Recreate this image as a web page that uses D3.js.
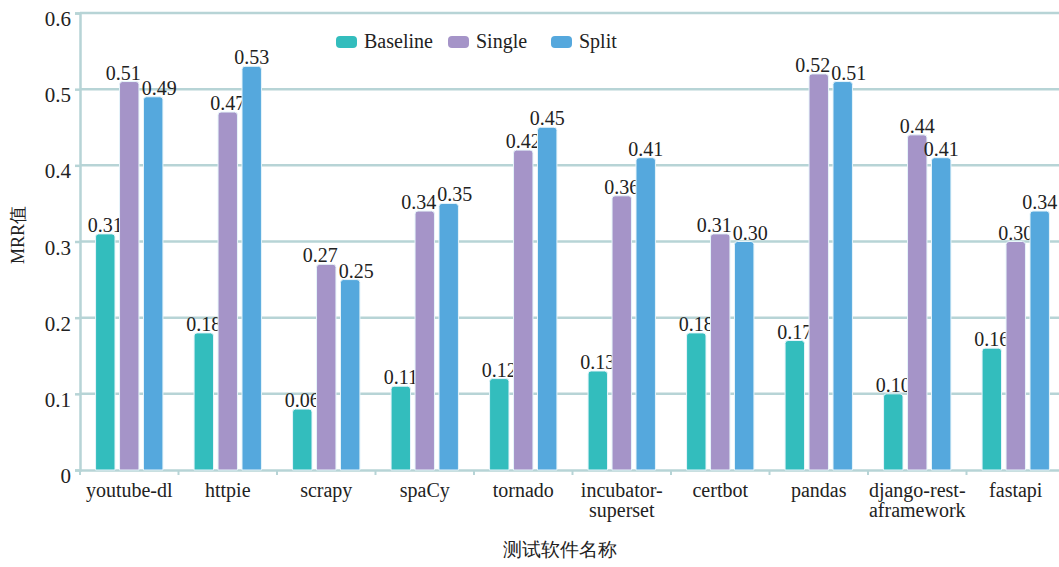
<!DOCTYPE html>
<html><head><meta charset="utf-8">
<script src="https://cdn.jsdelivr.net/npm/d3@7"></script>
<style>body{margin:0;background:#fff}svg{display:block}</style>
</head><body>
<script>
const categories = ["youtube-dl","httpie","scrapy","spaCy","tornado","incubator-\nsuperset","certbot","pandas","django-rest-\naframework","fastapi"];
const seriesNames = ["Baseline","Single","Split"];
const baseline = [0.31,0.18,0.08,0.11,0.12,0.13,0.18,0.17,0.10,0.16];
const single = [0.51,0.47,0.27,0.34,0.42,0.36,0.31,0.52,0.44,0.30];
const split = [0.49,0.53,0.25,0.35,0.45,0.41,0.30,0.51,0.41,0.34];
const baselineLabels = ["0.31","0.18","0.06","0.11","0.12","0.13","0.18","0.17","0.10","0.16"];
const singleLabels = ["0.51","0.47","0.27","0.34","0.42","0.36","0.31","0.52","0.44","0.30"];
const splitLabels = ["0.49","0.53","0.25","0.35","0.45","0.41","0.30","0.51","0.41","0.34"];
const yTicks = [0,0.1,0.2,0.3,0.4,0.5,0.6];
const yTitle = "MRR值";
const xTitle = "测试软件名称";
const colors = ["#33bdbd","#a594c8","#55a8dd"];

const W=1059,H=567;
const svg=d3.select("body").append("svg").attr("width",W).attr("height",H);
const font="Liberation Serif, Tinos, Times New Roman, DejaVu Serif, Noto Serif, serif";
const gridColor="#b7d4d6";

const x=d3.scaleBand().domain(categories).range([80,1065]).paddingInner(0).paddingOuter(0);
const y=d3.scaleLinear().domain([0,0.6]).range([470,13]);
const xs=d3.scaleBand().domain(seriesNames).range([0,x.bandwidth()]).paddingInner(0.19).paddingOuter(0.65);

// grid
svg.append("g").selectAll("line").data(yTicks.slice(1)).join("line")
  .attr("x1",80).attr("x2",W).attr("y1",d=>y(d)).attr("y2",d=>y(d))
  .attr("stroke",gridColor).attr("stroke-width",2.5);

// y axis
const yAxis=d3.axisLeft(y).tickValues(yTicks).tickFormat(d=>d===0?"0":d3.format(".1f")(d)).tickSize(5).tickPadding(4);
const gy=svg.append("g").attr("transform","translate(80,0)").call(yAxis);
gy.attr("font-family",null);
gy.select(".domain").attr("stroke",gridColor).attr("stroke-width",2.5);
gy.selectAll(".tick line").attr("stroke",gridColor).attr("stroke-width",2.5);
gy.selectAll(".tick text").style("font-family",font).attr("font-size",21).attr("fill","#222").attr("dy","0.6em");

// x axis
const xAxis=d3.axisBottom(x).tickSize(0).tickFormat("");
const gx=svg.append("g").attr("transform","translate(0,470)").call(xAxis);
gx.select(".domain").attr("stroke",gridColor).attr("stroke-width",2.5);
svg.append("g").selectAll("line").data(categories).join("line")
  .attr("x1",d=>x(d)).attr("x2",d=>x(d)).attr("y1",470).attr("y2",475)
  .attr("stroke",gridColor).attr("stroke-width",2);

// category labels
const cl=svg.append("g").selectAll("text").data(categories).join("text")
  .attr("x",d=>x(d)+x.bandwidth()/2).attr("y",497)
  .attr("text-anchor","middle").style("font-family",font).attr("font-size",20).attr("fill","#222");
cl.each(function(d){
  const lines=d.split("\n");
  d3.select(this).selectAll("tspan").data(lines).join("tspan")
    .attr("x",x(d)+x.bandwidth()/2).attr("dy",(l,i)=>i?20:0).text(l=>l);
});

// bars
const seriesData=[baseline,single,split];
const labelData=[baselineLabels,singleLabels,splitLabels];
const labelSel=[];
seriesData.forEach((vals,si)=>{
  const g=svg.append("g");
  g.selectAll("path").data(vals).join("path")
    .attr("d",(v,i)=>{
      const x0=x(categories[i])+xs(seriesNames[si]), w=xs.bandwidth(), y0=y(v), y1=y(0), r=3;
      return `M${x0},${y1}V${y0+r}Q${x0},${y0} ${x0+r},${y0}H${x0+w-r}Q${x0+w},${y0} ${x0+w},${y0+r}V${y1}Z`;
    })
    .attr("fill",colors[si]).attr("stroke","#e6f4fa").attr("stroke-width",1);
  labelSel.push(g.selectAll("text").data(vals).join("text")
    .attr("x",(v,i)=>x(categories[i])+xs(seriesNames[si])+xs.bandwidth()/2)
    .attr("y",v=>y(v)-2)
    .attr("text-anchor","middle").style("font-family",font).attr("font-size",20).attr("fill","#222")
    .text((v,i)=>labelData[si][i]));
});
// push apart overlapping neighbour labels within a group
categories.forEach((c,i)=>{
  const nodes=labelSel.map(s=>s.nodes()[i]);
  const info=nodes.map(n=>{const b=n.getBBox();return {n,cx:+n.getAttribute("x"),w:b.width,top:b.y,bot:b.y+b.height};});
  for(let iter=0;iter<4;iter++){
    for(let k=0;k<2;k++){
      const a=info[k],b=info[k+1];
      const vOverlap=a.bot>b.top+3&&b.bot>a.top+3;
      if(!vOverlap) continue;
      const ov=(a.cx+a.w/2)-(b.cx-b.w/2)+1;
      if(ov>0){a.cx-=ov/2;b.cx+=ov/2;}
    }
  }
  info.forEach(o=>o.n.setAttribute("x",o.cx));
});

// legend
const lg=svg.append("g");
const lx=[336,448,551];
seriesNames.forEach((n,i)=>{
  lg.append("rect").attr("x",lx[i]).attr("y",36).attr("width",21).attr("height",12).attr("rx",4)
    .attr("fill",colors[i]);
  lg.append("text").attr("x",lx[i]+28).attr("y",48).style("font-family",font).attr("font-size",20).attr("fill","#222").text(n);
});

// titles
svg.append("text").attr("transform","translate(24,235) rotate(-90)").attr("text-anchor","middle")
  .style("font-family",font).attr("font-size",18).attr("fill","#222").text(yTitle);
svg.append("text").attr("x",560).attr("y",556).attr("text-anchor","middle")
  .style("font-family",font).attr("font-size",19).attr("fill","#222").text(xTitle);
</script>
</body></html>
